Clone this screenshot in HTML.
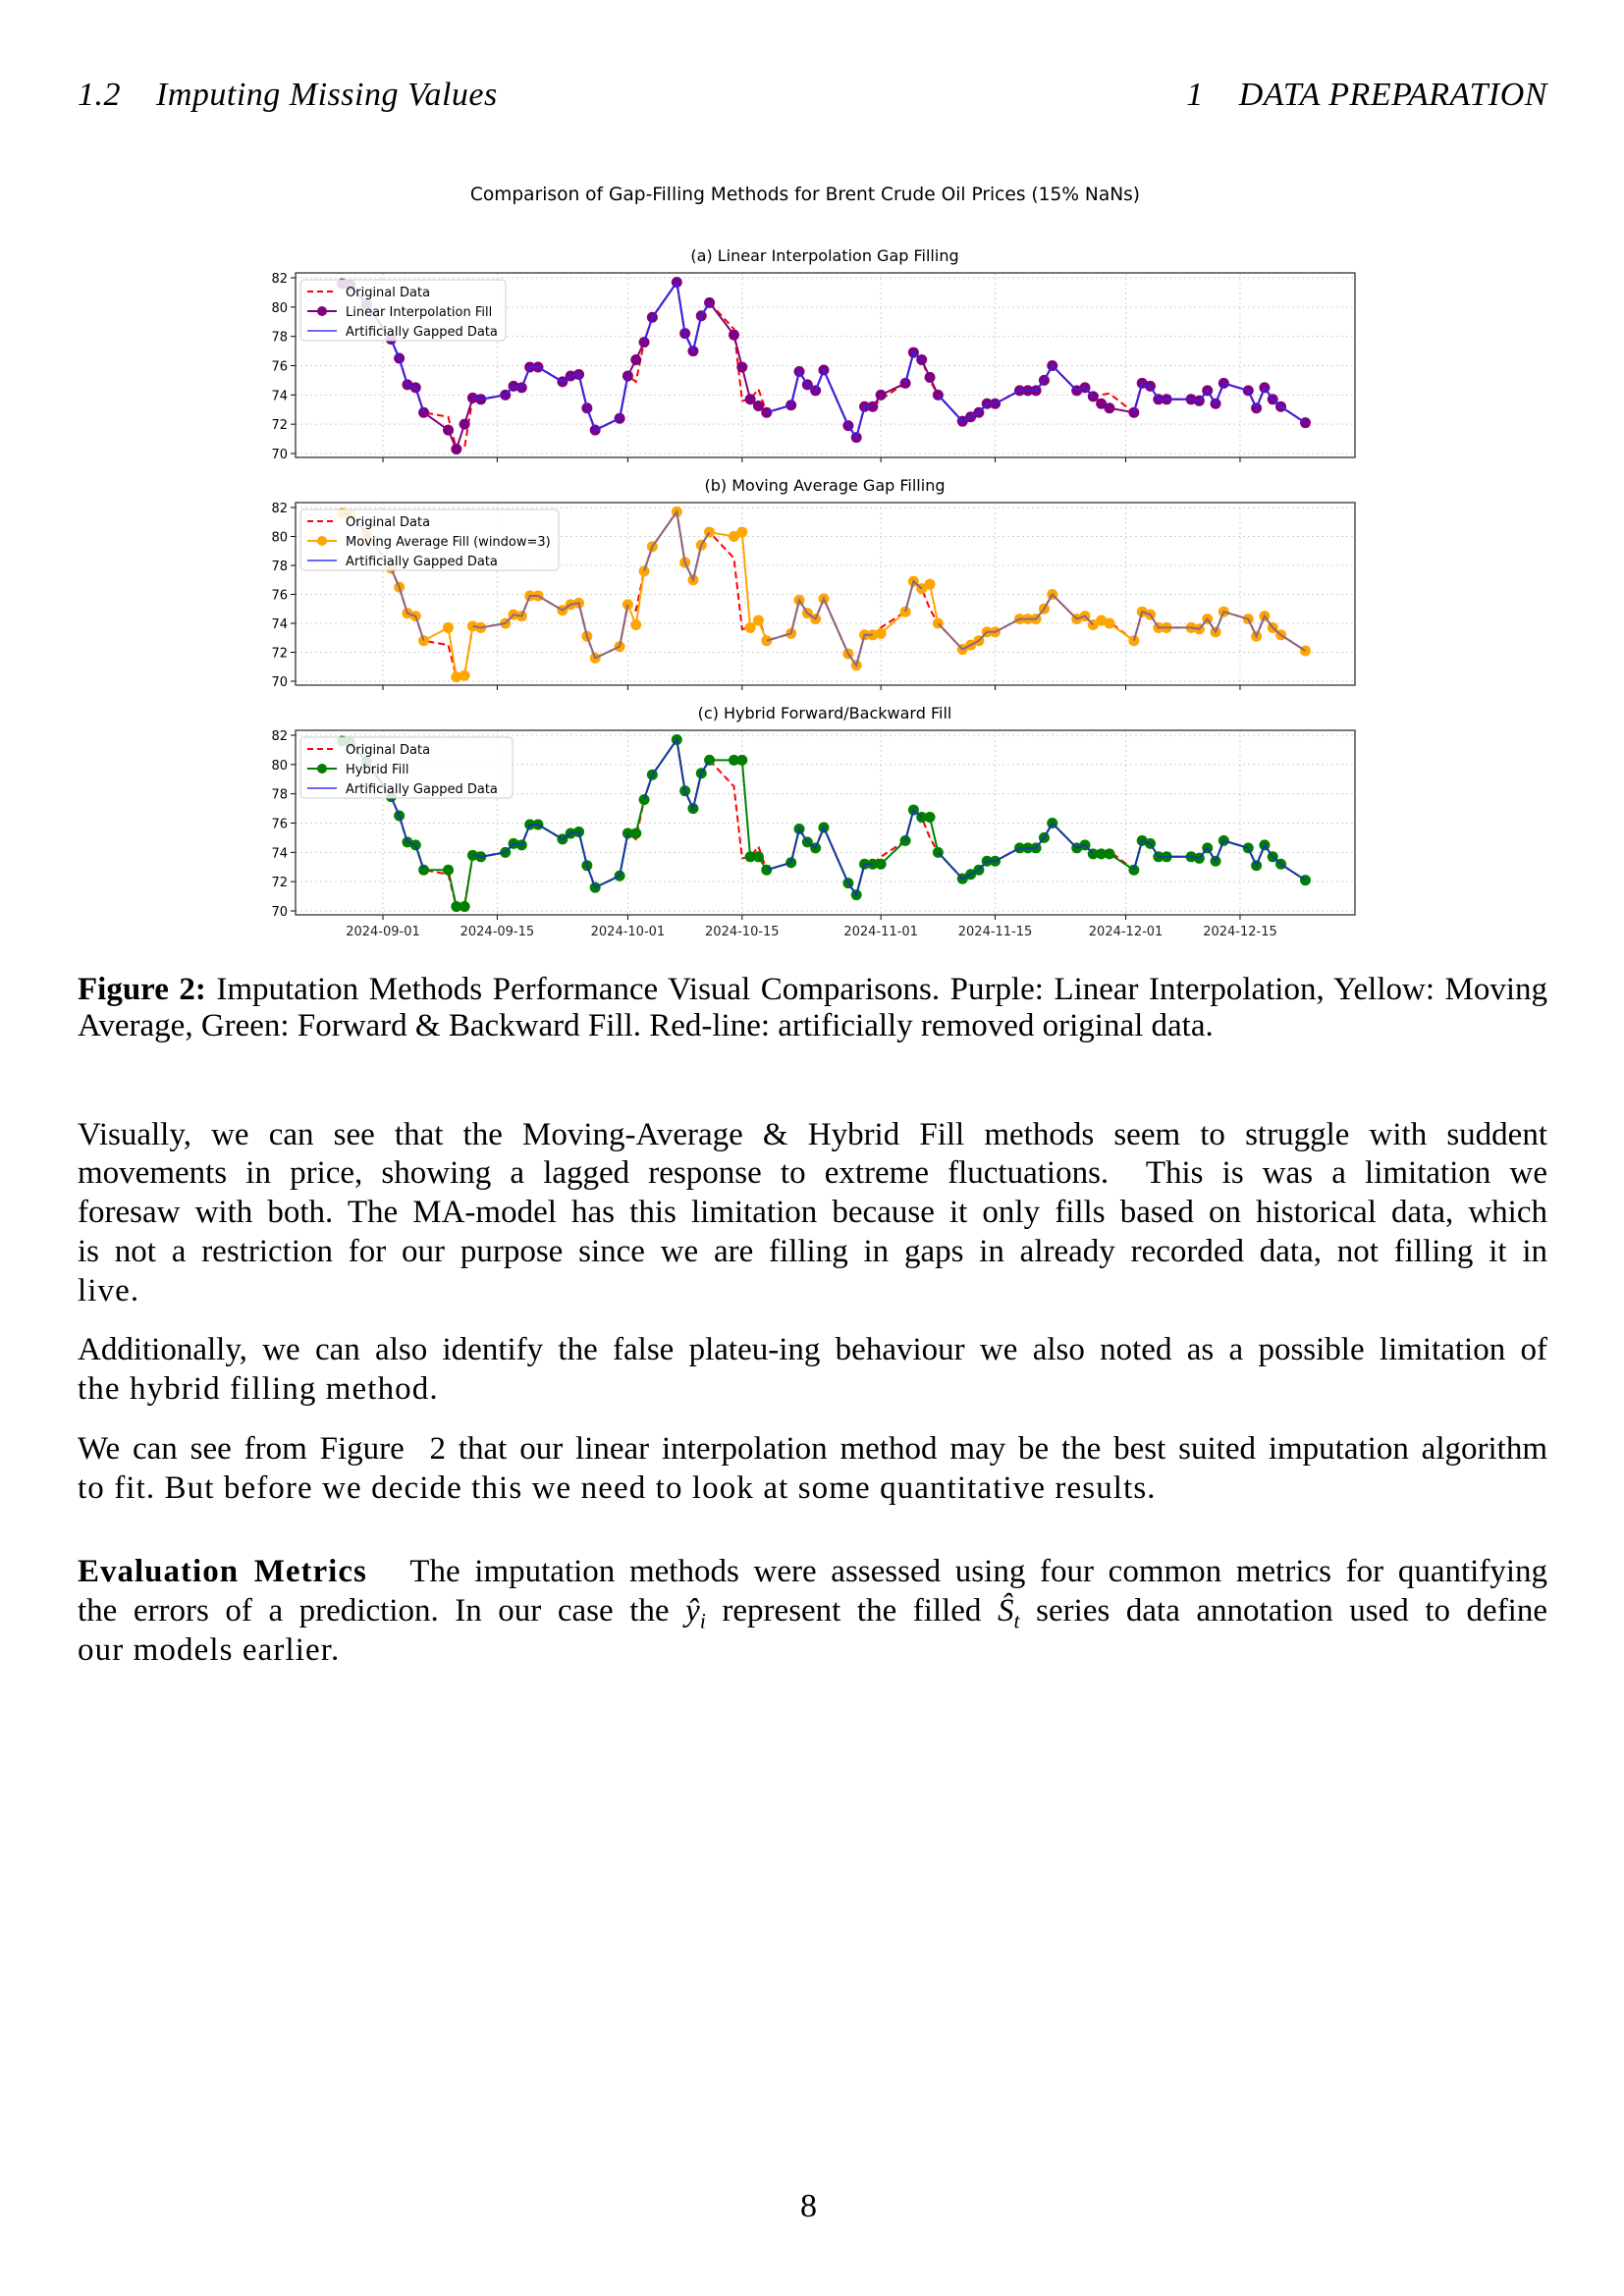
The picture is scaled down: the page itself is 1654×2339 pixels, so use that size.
<!DOCTYPE html>
<html>
<head>
<meta charset="utf-8">
<style>
  html,body{margin:0;padding:0;background:#fff;}
  #page{position:relative;width:1654px;height:2339px;overflow:hidden;background:#fff;font-family:"Liberation Serif","DejaVu Serif",serif;color:#000;}
  .ln{position:absolute;left:79px;width:1497px;font-size:33px;line-height:40px;white-space:nowrap;letter-spacing:1.1px;}
  .j{text-align:justify;text-align-last:justify;white-space:normal;letter-spacing:0;}
  .hdr{position:absolute;font-size:34px;font-style:italic;line-height:40px;white-space:nowrap;letter-spacing:0.5px;}
  svg text{font-family:"DejaVu Sans","Liberation Sans",sans-serif;}
</style>
</head>
<body>
<div id="page">
  <div class="hdr" style="left:79px;top:77px;">1.2&nbsp;&nbsp;&nbsp; Imputing Missing Values</div>
  <div class="hdr" style="right:78px;top:77px;">1&nbsp;&nbsp;&nbsp; DATA PREPARATION</div>

  <svg id="chart" style="position:absolute;left:0;top:0;" width="1654" height="980" viewBox="0 0 1654 980"></svg>

  <div class="ln j" style="top:988px;"><b>Figure 2:</b> Imputation Methods Performance Visual Comparisons. Purple: Linear Interpolation, Yellow: Moving</div>
  <div class="ln" style="top:1025px;letter-spacing:0;">Average, Green: Forward &amp; Backward Fill. Red-line: artificially removed original data.</div>

  <div class="ln j" style="top:1136px;">Visually, we can see that the Moving-Average &amp; Hybrid Fill methods seem to struggle with suddent</div>
  <div class="ln j" style="top:1175px;">movements in price, showing a lagged response to extreme fluctuations.&nbsp; This is was a limitation we</div>
  <div class="ln j" style="top:1215px;">foresaw with both. The MA-model has this limitation because it only fills based on historical data, which</div>
  <div class="ln j" style="top:1255px;">is not a restriction for our purpose since we are filling in gaps in already recorded data, not filling it in</div>
  <div class="ln" style="top:1295px;">live.</div>

  <div class="ln j" style="top:1355px;">Additionally, we can also identify the false plateu-ing behaviour we also noted as a possible limitation of</div>
  <div class="ln" style="top:1395px;">the hybrid filling method.</div>

  <div class="ln j" style="top:1456px;">We can see from Figure&nbsp; 2 that our linear interpolation method may be the best suited imputation algorithm</div>
  <div class="ln" style="top:1496px;">to fit. But before we decide this we need to look at some quantitative results.</div>

  <div class="ln j" style="top:1581px;"><b style="letter-spacing:1px;">Evaluation Metrics</b>&nbsp;&nbsp; The imputation methods were assessed using four common metrics for quantifying</div>
  <div class="ln j" style="top:1621px;">the errors of a prediction. In our case the <i>ŷ<sub style="font-size:22px;">i</sub></i> represent the filled <i>Ŝ<sub style="font-size:22px;">t</sub></i> series data annotation used to define</div>
  <div class="ln" style="top:1661px;">our models earlier.</div>

  <div class="hdr" style="left:815px;top:2228px;font-style:normal;">8</div>
</div>

<script>
const days = [-5,-4,-2,1,2,3,4,5,8,9,10,11,12,15,16,17,18,19,22,23,24,25,26,29,30,31,32,33,36,37,38,39,40,43,44,45,46,47,50,51,52,53,54,57,58,59,60,61,64,65,66,67,68,71,72,73,74,75,78,79,80,81,82,85,86,87,88,89,92,93,94,95,96,99,100,101,102,103,106,107,108,109,110,113];
const original = [81.6,81.5,80.2,77.8,76.5,74.7,74.5,72.8,72.5,70.3,70.4,73.8,73.7,74.0,74.6,74.5,75.9,75.9,74.9,75.3,75.4,73.1,71.6,72.4,75.3,74.9,77.6,79.3,81.7,78.2,77.0,79.4,80.3,78.5,73.6,73.7,74.4,72.8,73.3,75.6,74.7,74.3,75.7,71.9,71.1,73.2,73.2,73.7,74.8,76.9,76.4,75.0,74.0,72.2,72.5,72.8,73.4,73.4,74.3,74.3,74.3,75.0,76.0,74.3,74.5,73.9,74.0,74.1,72.8,74.8,74.6,73.7,73.7,73.7,73.6,74.3,73.4,74.8,74.3,73.1,74.5,73.7,73.2,72.1];
const gapDays = [8,10,31,43,44,46,61,67,88,89];
const linearFill = [71.6,72.0,76.4,78.1,75.9,73.25,74.0,75.2,73.4,73.1];
const maFill = [73.7,70.4,73.9,80.0,80.3,74.2,73.3,76.7,74.2,74.0];
const hybridFill = [72.8,70.3,75.3,80.3,80.3,73.7,73.2,76.4,73.9,73.9];
const yTicks = [70,72,74,76,78,80,82];
const xTickDays = [0,14,30,44,61,75,91,105];
const xTickLabels = ["2024-09-01","2024-09-15","2024-10-01","2024-10-15","2024-11-01","2024-11-15","2024-12-01","2024-12-15"];

const NS = "http://www.w3.org/2000/svg";
const svg = document.getElementById('chart');
function mk(tag, attrs, parent){
  const e = document.createElementNS(NS, tag);
  for (const k in attrs) e.setAttribute(k, attrs[k]);
  (parent||svg).appendChild(e);
  return e;
}
const X0 = 301, X1 = 1380;
const xScale = d => 390 + (d - 0) * 8.314;

const title = mk('text',{x:820,y:204,'text-anchor':'middle','font-size':18.6,fill:'#000'});


title.textContent = 'Comparison of Gap-Filling Methods for Brent Crude Oil Prices (15% NaNs)';

const panels = [
  {key:'a', title:'(a) Linear Interpolation Gap Filling', top:278, bottom:466, fill:linearFill, color:'#800080', label:'Linear Interpolation Fill', blue:'rgba(40,40,255,0.75)', legendW:209},
  {key:'b', title:'(b) Moving Average Gap Filling', top:512, bottom:698, fill:maFill, color:'#ffa500', label:'Moving Average Fill (window=3)', blue:'rgba(60,60,230,0.6)', legendW:263},
  {key:'c', title:'(c) Hybrid Forward/Backward Fill', top:744, bottom:932, fill:hybridFill, color:'#008000', label:'Hybrid Fill', blue:'rgba(30,30,230,0.7)', legendW:216}
];

panels.forEach(p => {
  const g = mk('g',{});
  
  
  const y82 = p.top + 5, y70 = p.bottom - 4;
  const yScale = v => y70 - (v - 70) * (y70 - y82) / 12;

  const t = mk('text',{x:840,y:p.top-12,'text-anchor':'middle','font-size':16,fill:'#000'},g);
  
  
  t.textContent = p.title;

  yTicks.forEach(v => {
    const gl = mk('line',{x1:X0,x2:X1,y1:yScale(v),y2:yScale(v),stroke:'#d0d0d0','stroke-width':1,'stroke-dasharray':'2,3'},g);
    
    
    const tk = mk('line',{x1:X0-5,x2:X0,y1:yScale(v),y2:yScale(v),stroke:'#000','stroke-width':1},g);
    
    
    const tl = mk('text',{x:X0-8,y:yScale(v)+5,'text-anchor':'end','font-size':13,fill:'#000'},g);
    
    
    tl.textContent = v;
  });
  xTickDays.forEach((d,i) => {
    const gl = mk('line',{x1:xScale(d),x2:xScale(d),y1:p.top,y2:p.bottom,stroke:'#d0d0d0','stroke-width':1,'stroke-dasharray':'2,3'},g);
    
    
    const tk = mk('line',{x1:xScale(d),x2:xScale(d),y1:p.bottom,y2:p.bottom+5,stroke:'#000','stroke-width':1},g);
    
    
    if (p.key === 'c') {
      const tl = mk('text',{x:xScale(d),y:p.bottom+21,'text-anchor':'middle','font-size':13,fill:'#222'},g);
      
      
      tl.textContent = xTickLabels[i];
    }
  });

  const filled = original.map((v,i) => {
    const gi = gapDays.indexOf(days[i]);
    return gi >= 0 ? p.fill[gi] : v;
  });

  const origPts = days.map((d,i) => xScale(d).toFixed(1)+','+yScale(original[i]).toFixed(1)).join(' ');
  const ol = mk('polyline',{points:origPts,fill:'none',stroke:'#ff0000','stroke-width':2,'stroke-dasharray':'7,4'},g);
  
  

  const fillPts = days.map((d,i) => xScale(d).toFixed(1)+','+yScale(filled[i]).toFixed(1)).join(' ');
  const fl = mk('polyline',{points:fillPts,fill:'none',stroke:p.color,'stroke-width':2},g);
  
  
  days.forEach((d,i) => {
    const c = mk('circle',{cx:xScale(d),cy:yScale(filled[i]),r:5.5,fill:p.color},g);
    
    
  });

  let seg = [];
  const flush = () => {
    if (seg.length > 1) {
      const bl = mk('polyline',{points:seg.join(' '),fill:'none',stroke:p.blue,'stroke-width':2},g);
      
      
    }
    seg = [];
  };
  days.forEach((d,i) => {
    if (gapDays.indexOf(d) >= 0) { flush(); }
    else seg.push(xScale(d).toFixed(1)+','+yScale(original[i]).toFixed(1));
  });
  flush();

  const fr = mk('rect',{x:X0,y:p.top,width:X1-X0,height:p.bottom-p.top,fill:'none',stroke:'#333','stroke-width':1.3},g);
  
  

  const lg = mk('g',{},g);
  
  
  const lx = X0+5, ly = p.top+7;
  const box = mk('rect',{x:lx,y:ly,width:p.legendW,height:62,rx:4,fill:'rgba(255,255,255,0.85)',stroke:'#ccc','stroke-width':1},lg);
  
  
  const rows = [
    {label:'Original Data', type:'dash'},
    {label:p.label, type:'marker'},
    {label:'Artificially Gapped Data', type:'blue'}
  ];
  rows.forEach((r,k) => {
    const yy = ly + 12 + k*20;
    const ent = mk('g',{},lg);
    
    
    if (r.type === 'dash') mk('line',{x1:lx+7,x2:lx+37,y1:yy,y2:yy,stroke:'#ff0000','stroke-width':2,'stroke-dasharray':'6,4'},ent);
    if (r.type === 'marker') { mk('line',{x1:lx+7,x2:lx+37,y1:yy,y2:yy,stroke:p.color,'stroke-width':2},ent); mk('circle',{cx:lx+22,cy:yy,r:5,fill:p.color},ent); }
    if (r.type === 'blue') mk('line',{x1:lx+7,x2:lx+37,y1:yy,y2:yy,stroke:'rgba(40,40,255,0.7)','stroke-width':2},ent);
    const tx = mk('text',{x:lx+46,y:yy+5,'font-size':13,fill:'#000'},ent);
    tx.textContent = r.label;
  });
});
</script>
</body>
</html>
